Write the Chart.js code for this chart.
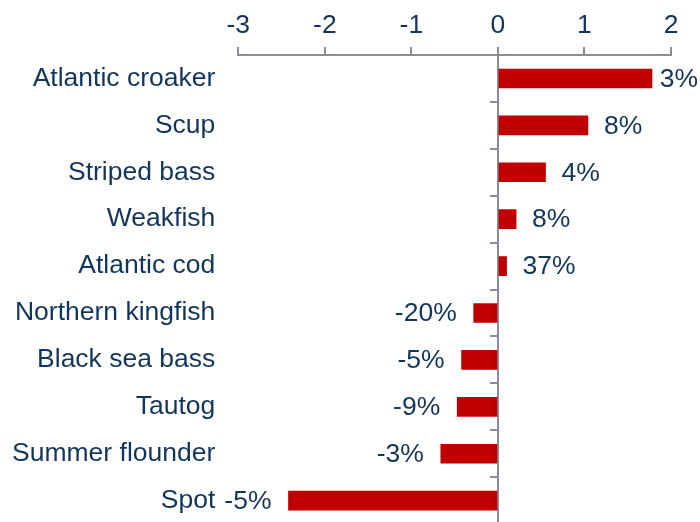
<!DOCTYPE html>
<html>
<head>
<meta charset="utf-8">
<script src="https://cdn.jsdelivr.net/npm/chart.js@4"></script>
<style>
html,body{margin:0;padding:0;background:#fff;overflow:hidden;}
canvas{display:block;}
</style>
</head>
<body>
<canvas id="c" width="700" height="563"></canvas>
<script>
const species = ["Atlantic croaker","Scup","Striped bass","Weakfish","Atlantic cod","Northern kingfish","Black sea bass","Tautog","Summer flounder","Spot"];
const values = [1.78, 1.04, 0.55, 0.21, 0.10, -0.28, -0.42, -0.47, -0.66, -2.42];
const pctLabels = ["3%","8%","4%","8%","37%","-20%","-5%","-9%","-3%","-5%"];
const xTicks = [-3, -2, -1, 0, 1, 2];

const TEXT = "#12355b";
const GRAY = "#8a8d99";
const RED = "#c00000";
const FONT = "Liberation Sans, Arial, sans-serif";
const FSIZE = 26.5;

const valueLabels = {
  id: 'valueLabels',
  afterDatasetsDraw(chart) {
    const ctx = chart.ctx;
    const meta = chart.getDatasetMeta(0);
    ctx.save();
    ctx.font = FSIZE + "px " + FONT;
    ctx.fillStyle = TEXT;
    ctx.textBaseline = 'middle';
    meta.data.forEach((bar, i) => {
      const v = values[i];
      const t = pctLabels[i];
      if (v >= 0) {
        ctx.textAlign = 'left';
        let x = bar.x + 16;
        const w = ctx.measureText(t).width;
        if (x + w > chart.width - 2) x = chart.width - 2 - w;
        ctx.fillText(t, x, bar.y + 1);
      } else {
        ctx.textAlign = 'right';
        ctx.fillText(t, bar.x - 17, bar.y + 1);
      }
    });
    ctx.restore();
  }
};

const chart = new Chart(document.getElementById('c'), {
  type: 'bar',
  data: {
    labels: species,
    datasets: [{
      data: values,
      backgroundColor: RED,
      borderWidth: 0,
      barThickness: 19,
      yAxisID: 'y'
    }]
  },
  options: {
    indexAxis: 'y',
    responsive: false,
    animation: false,
    devicePixelRatio: 1,
    layout: { padding: { top: 0, right: 29, bottom: 0, left: 0 } },
    plugins: { legend: { display: false }, tooltip: { enabled: false } },
    scales: {
      x: {
        position: 'top',
        min: -3,
        max: 2,
        afterBuildTicks(scale) { scale.ticks = xTicks.map(v => ({ value: v })); },
        afterFit(scale) { scale.height = 55; },
        grid: { drawOnChartArea: false, tickLength: 8, color: GRAY, lineWidth: 2 },
        border: { display: true, color: GRAY, width: 2 },
        ticks: { color: TEXT, font: { family: FONT, size: FSIZE }, padding: 5, maxRotation: 0 }
      },
      y: {
        position: 'left',
        afterFit(scale) { scale.width = 238.3; },
        grid: { display: false, drawTicks: false },
        border: { display: false },
        ticks: { color: TEXT, font: { family: FONT, size: FSIZE }, padding: 23 }
      },
      y2: {
        type: 'category',
        axis: 'y',
        position: { x: 0 },
        offset: true,
        grid: { offset: true, drawOnChartArea: false, tickLength: 7, color: GRAY, lineWidth: 2 },
        border: { display: true, color: GRAY, width: 2 },
        ticks: { display: false }
      }
    }
  },
  plugins: [valueLabels]
});
</script>
</body>
</html>
